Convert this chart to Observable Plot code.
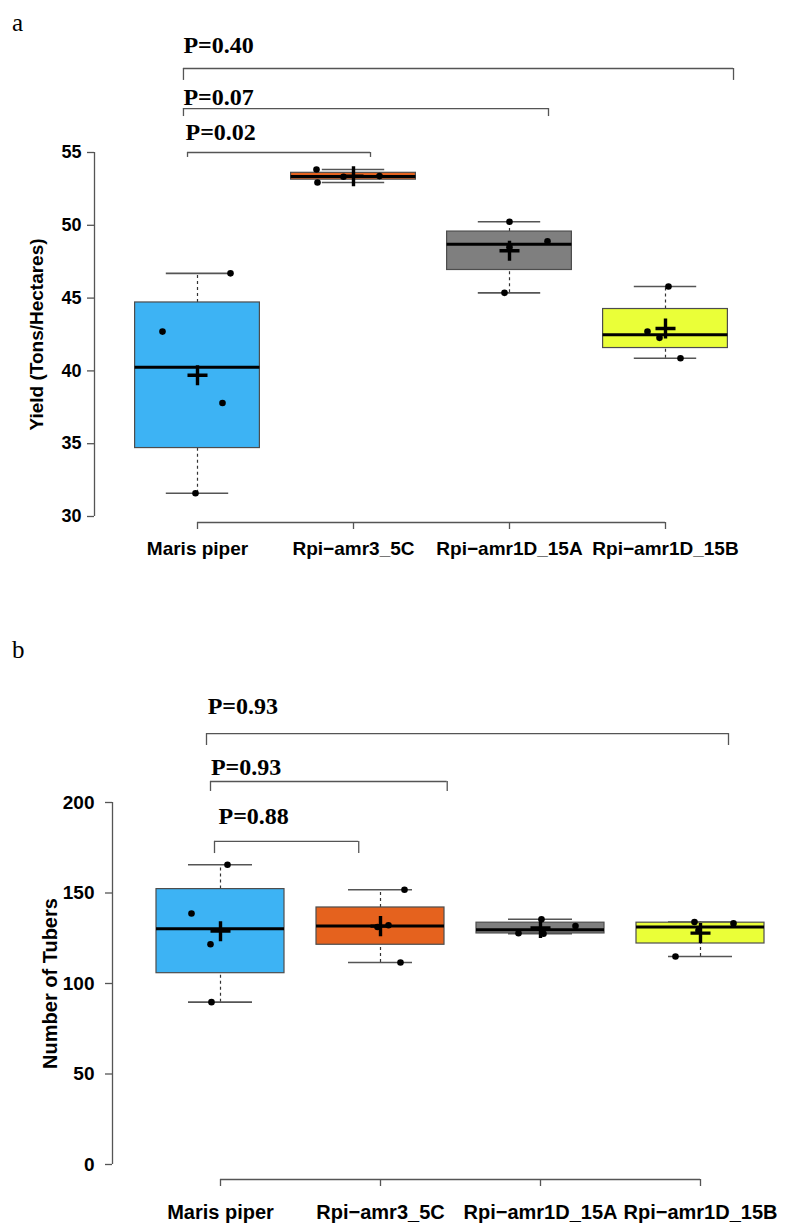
<!DOCTYPE html>
<html><head><meta charset="utf-8">
<script src="https://cdn.jsdelivr.net/npm/d3@7"></script>
<script src="https://cdn.jsdelivr.net/npm/@observablehq/plot@0.6"></script>
<style>
body{margin:0;background:#fff;}
#wrap{position:relative;width:793px;height:1226px;overflow:hidden;background:#fff;}
.panel{position:absolute;left:0;}
.lab{position:absolute;left:12px;font-family:"Liberation Serif","Times New Roman",serif;font-size:25px;line-height:28px;}
</style></head><body>
<div id="wrap">
<div id="pa" class="panel" style="top:0px"></div>
<div id="pb" class="panel" style="top:600px"></div>
<div class="lab" style="top:9px">a</div>
<div class="lab" style="top:636px">b</div>
</div>
<script>
// ---------- DATA ----------
const categories = ["Maris piper", "Rpi\u2212amr3_5C", "Rpi\u2212amr1D_15A", "Rpi\u2212amr1D_15B"];
const boxColors = ["#3DB3F4", "#E5621E", "#7F7F7F", "#EAFF38"];

// panel a: yield (tons/hectare), one value per replicate
const yieldMarisPiper = [46.7, 42.7, 37.8, 31.6];
const yieldAmr3_5C    = [53.83, 52.94, 53.33, 53.38];
const yieldAmr1D_15A  = [50.24, 48.9, 48.5, 45.36];
const yieldAmr1D_15B  = [45.8, 42.7, 42.27, 40.87];
const yieldTicks = [30, 35, 40, 45, 50, 55];
const yieldP = ["0.02", "0.07", "0.40"];   // Maris piper vs 5C, 15A, 15B

// panel b: number of tubers
const tubersMarisPiper = [165.6, 138.7, 121.7, 89.7];
const tubersAmr3_5C    = [151.8, 132.2, 131.2, 111.6];
const tubersAmr1D_15A  = [135.5, 131.7, 127.8, 127.5];
const tubersAmr1D_15B  = [134.0, 133.2, 129.3, 114.9];
const tuberTicks = [0, 50, 100, 150, 200];
const tubersP = ["0.88", "0.93", "0.93"];

// ---------- RENDERING ----------
const SANS = "Liberation Sans, Arial, Helvetica, sans-serif";
const SERIF = "Liberation Serif, Times New Roman, serif";

function boxStats(values) {
  const s = values.slice().sort(d3.ascending), n = s.length;
  const n4 = Math.floor((n + 3) / 2) / 2;
  const idx = [1, n4, (n + 1) / 2, n + 1 - n4, n];
  const [, q1, med, q3] = idx.map(k => 0.5 * (s[Math.floor(k) - 1] + s[Math.ceil(k) - 1]));
  const iqr = q3 - q1;
  const lo = d3.min(s.filter(v => v >= q1 - 1.5 * iqr));
  const hi = d3.max(s.filter(v => v <= q3 + 1.5 * iqr));
  return {q1, med, q3, lo, hi, mean: d3.mean(s)};
}

function panel(cfg) {
  const spacing = (cfg.xRange[1] - cfg.xRange[0]) / (categories.length - 1);
  const stats = cfg.series.map((v, i) => ({i, color: boxColors[i], ...boxStats(v)}));
  const pts = cfg.series.flatMap((v, i) => v.map((y, j) => ({x: i + cfg.jitter[i][j] / spacing, y})));
  const yAxisX = (cfg.marginLeft - cfg.xRange[0]) / spacing;
  const br = cfg.brackets.map((b, k) => ({...b, p: cfg.pValues[k]}));
  const hw = 0.4, cw = 0.2;
  return Plot.plot({
    width: 793,
    height: cfg.height,
    marginTop: cfg.marginTop,
    marginBottom: cfg.marginBottom,
    marginLeft: cfg.marginLeft,
    marginRight: 20,
    style: {fontFamily: SANS, background: "transparent", color: "black", overflow: "visible"},
    x: {type: "linear", domain: [0, categories.length - 1], range: cfg.xRange},
    y: {type: "linear", domain: [cfg.ticks[0], cfg.ticks[cfg.ticks.length - 1]]},
    color: {type: "identity"},
    marks: [
      // y axis
      Plot.ruleX([yAxisX], {y1: cfg.ticks[0], y2: cfg.ticks[cfg.ticks.length - 1], stroke: "#555", strokeWidth: 1.3}),
      Plot.axisY({ticks: cfg.ticks, tickSize: 7, tickPadding: cfg.tickPadding, fontSize: cfg.tickFont, fontWeight: "bold", stroke: "#555", strokeWidth: 1.3, label: null}),
      Plot.text([cfg.yTitle], {frameAnchor: "left", textAnchor: "middle", lineAnchor: "middle", dx: cfg.titleDx, rotate: -90, fontSize: cfg.titleFont, fontWeight: "bold"}),
      // x axis (R style, from first to last category)
      Plot.ruleY([cfg.ticks[0]], {x1: 0, x2: categories.length - 1, dy: cfg.xAxisDy, stroke: "#555", strokeWidth: 1.3}),
      Plot.axisX({ticks: d3.range(categories.length), tickSize: 7, dy: cfg.xAxisDy, tickFormat: () => "", stroke: "#555", strokeWidth: 1.3, label: null}),
      Plot.text(categories, {x: (d, i) => i, y: cfg.ticks[0], dy: cfg.labelDy, fontSize: cfg.labelFont, fontWeight: "bold", lineAnchor: "middle"}),
      // whiskers
      Plot.ruleX(stats, {x: "i", y1: "q3", y2: "hi", stroke: "#333", strokeWidth: 1.2, strokeDasharray: "3,3"}),
      Plot.ruleX(stats, {x: "i", y1: "lo", y2: "q1", stroke: "#333", strokeWidth: 1.2, strokeDasharray: "3,3"}),
      Plot.ruleY(stats, {x1: d => d.i - cw, x2: d => d.i + cw, y: "hi", stroke: "#555", strokeWidth: 1.6}),
      Plot.ruleY(stats, {x1: d => d.i - cw, x2: d => d.i + cw, y: "lo", stroke: "#555", strokeWidth: 1.6}),
      // boxes
      Plot.rect(stats, {x1: d => d.i - hw, x2: d => d.i + hw, y1: "q1", y2: "q3", fill: "color", stroke: "#4d4d4d", strokeWidth: 1.2}),
      Plot.ruleY(stats, {x1: d => d.i - hw, x2: d => d.i + hw, y: "med", stroke: "black", strokeWidth: 3}),
      // replicate points and means
      Plot.dot(pts, {x: "x", y: "y", r: 3.3, fill: "black"}),
      Plot.dot(stats, {x: "i", y: "mean", symbol: "plus", r: 6.5, stroke: "black", strokeWidth: 3.4}),
      // significance brackets
      Plot.ruleY(br, {x1: "x1", x2: "x2", y: "y", stroke: "#555", strokeWidth: 1.3}),
      Plot.ruleX(br, {x: "x1", y1: "y", y2: "leg", stroke: "#555", strokeWidth: 1.3}),
      Plot.ruleX(br, {x: "x2", y1: "y", y2: "leg", stroke: "#555", strokeWidth: 1.3}),
      Plot.text(br, {x: "tx", y: "ty", text: d => "P=" + d.p, textAnchor: "start", lineAnchor: "middle",
        fontFamily: SERIF, fontWeight: "bold", fontSize: 24})
    ]
  });
}

document.getElementById("pa").appendChild(panel({
  series: [yieldMarisPiper, yieldAmr3_5C, yieldAmr1D_15A, yieldAmr1D_15B],
  jitter: [[33, -35, 25, -2], [-37, -36, -10, 26], [0, 38, 0, -5], [3, -18, -6, 15]],
  ticks: yieldTicks,
  pValues: yieldP,
  brackets: [
    {x1: -0.064, x2: 1.109, y: 55.0, leg: 54.66, tx: -0.077, ty: 56.37},
    {x1: -0.09, x2: 2.25, y: 58.02, leg: 57.47, tx: -0.09, ty: 58.78},
    {x1: -0.09, x2: 3.436, y: 60.77, leg: 59.95, tx: -0.09, ty: 62.35}
  ],
  yTitle: "Yield (Tons/Hectares)",
  height: 590, marginTop: 152, marginBottom: 74, marginLeft: 94, xRange: [197, 665],
  tickPadding: 6, tickFont: 18, titleFont: 19, titleDx: -58, labelFont: 19, labelDy: 32, xAxisDy: 6
}));

document.getElementById("pb").appendChild(panel({
  series: [tubersMarisPiper, tubersAmr3_5C, tubersAmr1D_15A, tubersAmr1D_15B],
  jitter: [[7, -29, -10, -9], [24, 8, -3, 20], [1, 35, -22, 3], [-6, 33, -2, -25]],
  ticks: tuberTicks,
  pValues: tubersP,
  brackets: [
    {x1: -0.0375, x2: 0.864, y: 178.5, leg: 171.8, tx: -0.0125, ty: 192.3},
    {x1: -0.0625, x2: 1.417, y: 211.6, leg: 206.1, tx: -0.06, ty: 219.3},
    {x1: -0.0875, x2: 3.175, y: 238.1, leg: 231.5, tx: -0.08, ty: 253.0}
  ],
  yTitle: "Number of Tubers",
  height: 626, marginTop: 202, marginBottom: 62, marginLeft: 112, xRange: [220, 700],
  tickPadding: 11, tickFont: 19, titleFont: 20, titleDx: -62, labelFont: 20, labelDy: 48, xAxisDy: 15
}));
</script>
</body></html>
